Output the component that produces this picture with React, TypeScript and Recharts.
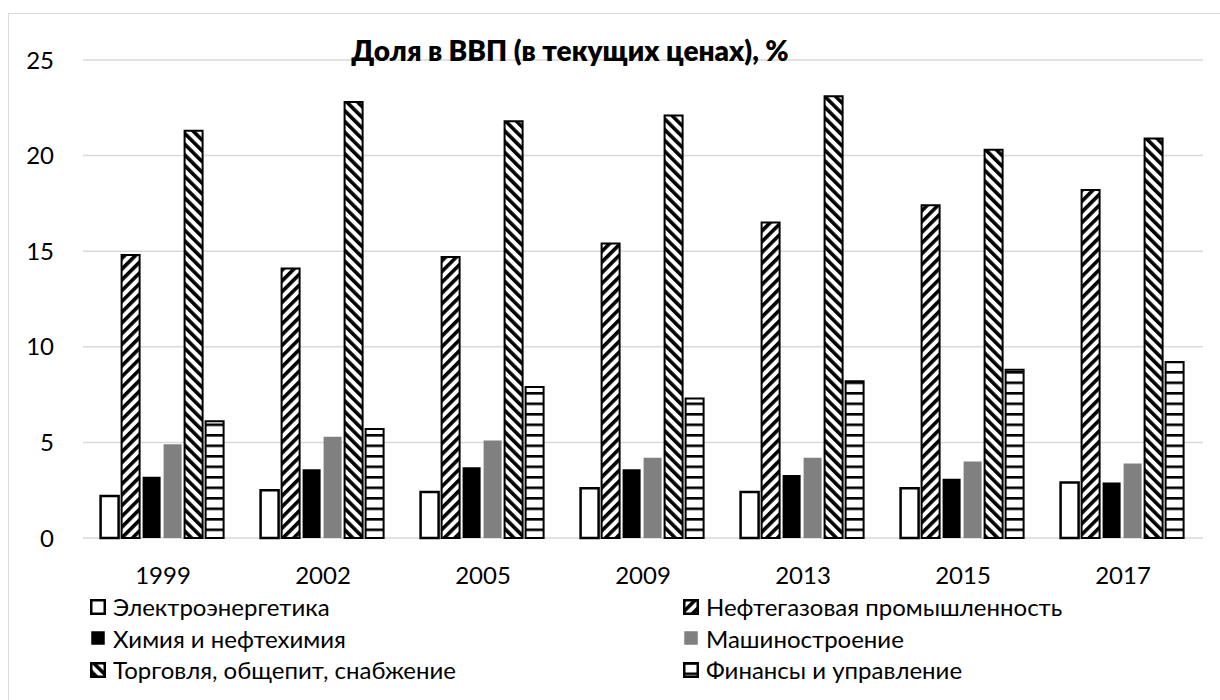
import { BarChart, Bar, XAxis, YAxis, CartesianGrid } from 'recharts'

const years = ['1999', '2002', '2005', '2009', '2013', '2015', '2017']
const electro = [2.2, 2.5, 2.4, 2.6, 2.4, 2.6, 2.9]
const neftegaz = [14.8, 14.1, 14.7, 15.4, 16.5, 17.4, 18.2]
const himiya = [3.2, 3.6, 3.7, 3.6, 3.3, 3.1, 2.9]
const mash = [4.9, 5.3, 5.1, 4.2, 4.2, 4.0, 3.9]
const torg = [21.3, 22.8, 21.8, 22.1, 23.1, 20.3, 20.9]
const finansy = [6.1, 5.7, 7.9, 7.3, 8.2, 8.8, 9.2]
const yTicks = [0, 5, 10, 15, 20, 25]

const FONT = 'Lato, "Noto Sans", sans-serif'

const series = [
  { key: 'electro', name: 'Электроэнергетика', values: electro, fill: '#ffffff', stroke: '#000', sw: 2.5 },
  { key: 'neftegaz', name: 'Нефтегазовая промышленность', values: neftegaz, fill: 'url(#fwd)', stroke: '#000', sw: 2 },
  { key: 'himiya', name: 'Химия и нефтехимия', values: himiya, fill: '#000000', stroke: 'none', sw: 0 },
  { key: 'mash', name: 'Машиностроение', values: mash, fill: '#808080', stroke: 'none', sw: 0 },
  { key: 'torg', name: 'Торговля, общепит, снабжение', values: torg, fill: 'url(#back)', stroke: '#000', sw: 2 },
  { key: 'finansy', name: 'Финансы и управление', values: finansy, fill: 'url(#horiz)', stroke: '#000', sw: 2 },
]

const data = years.map((y, i) => {
  const row: Record<string, string | number> = { year: y }
  series.forEach((s) => { row[s.key] = s.values[i] })
  return row
})

function Patterns() {
  return (
    <svg width={0} height={0} style={{ position: 'absolute' }}>
      <defs>
        <pattern id="fwd" width={7.6} height={7.6} patternUnits="userSpaceOnUse" patternTransform="rotate(45)">
          <rect width={7.6} height={7.6} fill="#fff" />
          <rect width={3.6} height={7.6} fill="#000" />
        </pattern>
        <pattern id="back" width={7.6} height={7.6} patternUnits="userSpaceOnUse" patternTransform="rotate(-45)">
          <rect width={7.6} height={7.6} fill="#fff" />
          <rect width={3.6} height={7.6} fill="#000" />
        </pattern>
        <pattern id="horiz" width={8} height={10.5} patternUnits="userSpaceOnUse">
          <rect width={8} height={10.5} fill="#fff" />
          <rect width={8} height={2.6} fill="#000" />
        </pattern>
      </defs>
    </svg>
  )
}

export default function App() {
  return (
    <div
      style={{
        position: 'absolute',
        left: 8,
        top: 13,
        width: 1230,
        height: 720,
        border: '1px solid #d9d9d9',
        background: '#fff',
        fontFamily: FONT,
      }}
    >
      <Patterns />
      <BarChart
        width={1212}
        height={690}
        data={data}
        margin={{ top: 46, right: 18, bottom: 136, left: 14 }}
        barCategoryGap="11%"
        barGap={3}
      >
        <CartesianGrid vertical={false} stroke="#d9d9d9" strokeWidth={1.5} />
        <XAxis
          dataKey="year"
          height={30}
          axisLine={false}
          tickLine={false}
          tickSize={0}
          tickMargin={29}
          tick={{ fill: '#000', fontSize: 24, fontFamily: FONT }}
        />
        <YAxis
          width={60}
          domain={[0, 25]}
          ticks={yTicks}
          axisLine={false}
          tickLine={false}
          tickSize={0}
          tickMargin={29}
          tick={{ fill: '#000', fontSize: 24, fontFamily: FONT }}
        />
        {series.map((s) => (
          <Bar
            key={s.key}
            dataKey={s.key}
            name={s.name}
            fill={s.fill}
            stroke={s.stroke}
            strokeWidth={s.sw}
            isAnimationActive={false}
          />
        ))}
      </BarChart>

      {/* title */}
      <div
        style={{
          position: 'absolute',
          left: 0,
          width: 1122,
          top: 19,
          textAlign: 'center',
          fontSize: 28,
          fontWeight: 800,
          color: '#000',
          pointerEvents: 'none',
        }}
      >
        Доля в ВВП (в текущих ценах), %
      </div>

      {/* legend */}
      <div
        style={{
          position: 'absolute',
          left: 81,
          top: 577,
          display: 'grid',
          gridTemplateColumns: '593px 520px',
          gridAutoRows: '31.5px',
          alignItems: 'center',
          fontSize: 24,
          color: '#000',
        }}
      >
        {series.map((s) => (
          <div key={s.key} style={{ display: 'flex', alignItems: 'center' }}>
            <svg width={16} height={16} style={{ marginRight: 7, flex: 'none' }}>
              <rect
                x={1.25}
                y={1.25}
                width={13.5}
                height={13.5}
                fill={s.fill}
                stroke={s.stroke === 'none' ? 'none' : '#000'}
                strokeWidth={2.5}
              />
            </svg>
            <span>{s.name}</span>
          </div>
        ))}
      </div>
    </div>
  )
}
